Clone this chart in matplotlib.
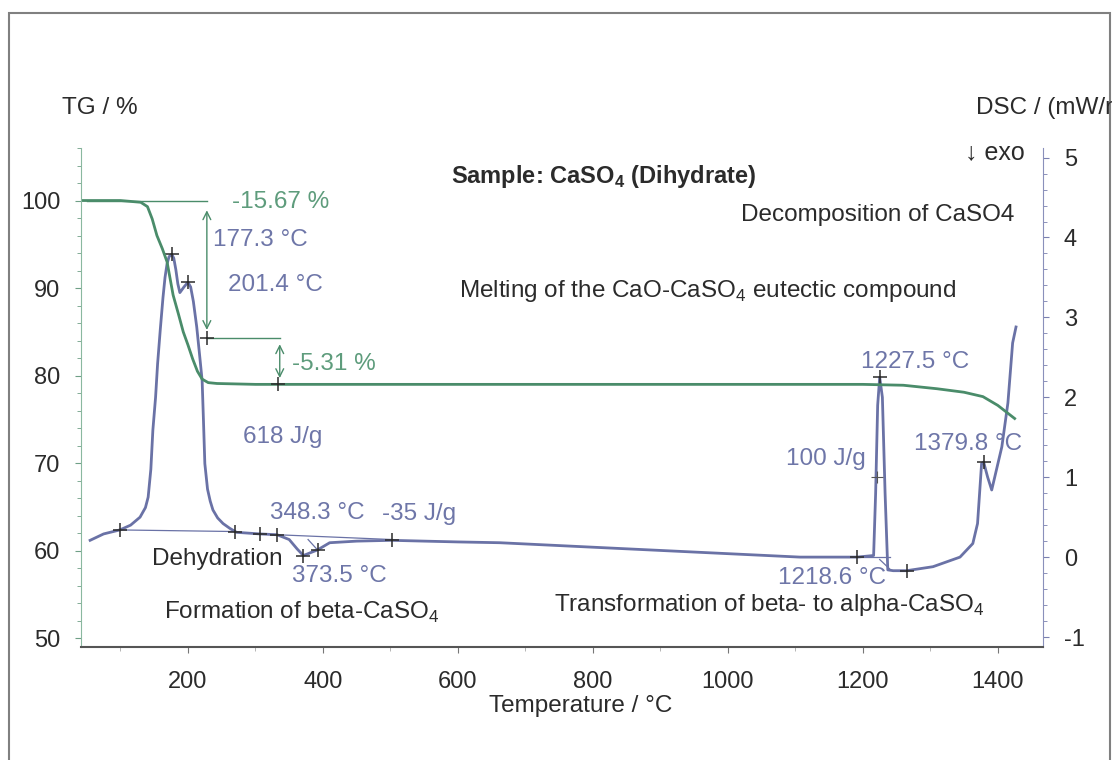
import matplotlib
matplotlib.use("Agg")
import matplotlib.pyplot as plt
from matplotlib.patches import Rectangle
from matplotlib.ticker import MultipleLocator

plt.rcParams['font.family'] = ['Liberation Sans', 'DejaVu Sans']
plt.rcParams['mathtext.fontset'] = 'custom'
plt.rcParams['mathtext.rm'] = 'Liberation Sans'
plt.rcParams['mathtext.bf'] = 'Liberation Sans:bold'
plt.rcParams['axes.unicode_minus'] = False

# TG curve (mass %)
tg_temp = [45, 100, 130, 140, 147, 154, 162, 169, 178, 186, 193, 200, 207, 214, 221, 230, 243,
           300, 600, 900, 1200, 1260, 1310, 1350, 1378, 1400, 1425]
tg_mass = [100, 100, 99.8, 99.3, 97.9, 96.0, 94.5, 93.0, 89.2, 87.0, 85.0, 83.5, 81.9, 80.5,
           79.6, 79.2, 79.1, 79.0, 79.0, 79.0, 79.0, 78.9, 78.5, 78.1, 77.6, 76.6, 75.1]

# DSC curve (mW/mg)
dsc_temp = [55, 75, 99, 115, 129, 137, 141, 145, 148, 152, 155, 159, 163, 166, 169, 172, 176,
            179, 182, 185, 188, 194, 200, 204, 208, 213, 217, 221, 223, 225, 229, 233, 237, 244,
            252, 262, 272, 307, 332, 350, 362, 371, 380, 392, 410, 450, 502, 550, 600, 662,
            785, 958, 1107, 1191, 1216, 1219, 1222, 1225, 1229, 1233, 1237, 1245, 1265, 1304,
            1344, 1363, 1370, 1376, 1379, 1385, 1391, 1406, 1415, 1422, 1427]
dsc_val = [0.21, 0.29, 0.34, 0.4, 0.5, 0.62, 0.75, 1.1, 1.59, 2.0, 2.42, 2.85, 3.25, 3.5, 3.67,
           3.76, 3.79, 3.74, 3.6, 3.42, 3.31, 3.38, 3.44, 3.38, 3.2, 2.88, 2.55, 2.21, 1.7, 1.17,
           0.85, 0.7, 0.59, 0.49, 0.42, 0.36, 0.31, 0.29, 0.28, 0.22, 0.1, 0.02, 0.05, 0.09,
           0.18, 0.2, 0.21, 0.2, 0.19, 0.18, 0.13, 0.06, 0.0, 0.0, 0.02, 0.8, 1.9, 2.25, 2.0,
           0.8, -0.16, -0.17, -0.17, -0.12, 0.0, 0.17, 0.42, 1.17, 1.19, 1.0, 0.84, 1.38, 1.93,
           2.68, 2.88]

# evaluation markers
dsc_mark_t = [100, 176, 200, 270, 307, 332, 371, 392, 502, 1191, 1226, 1265, 1380]
dsc_mark_v = [0.34, 3.79, 3.44, 0.31, 0.29, 0.28, 0.02, 0.09, 0.21, 0.0, 2.25, -0.17, 1.19]
tg_mark_t = [228, 333]
tg_mark_v = [84.3, 79.0]

# DSC baselines (pairs of points)
dsc_base = [((100, 270), (0.34, 0.32)), ((332, 502), (0.28, 0.22)), ((378, 392), (0.22, 0.09)),
            ((1191, 1240), (0.0, 0.0)), ((1225, 1240), (-0.03, -0.15))]

GREEN = '#4a8c6a'
GREEN_TXT = '#5e9c7c'
BLUE = '#6a72a6'
BLUE_TXT = '#6e76a8'
DARK = '#2b2b2b'

fig = plt.figure(figsize=(11.12, 7.6), dpi=100)
ax = fig.add_axes([81 / 1112, 1 - 647 / 760, (1043 - 81) / 1112, (647 - 148) / 760])
ax2 = ax.twinx()
ax.set_zorder(ax2.get_zorder() + 1)
ax.patch.set_visible(False)

ax.set_xlim(41.5, 1467)
ax.set_ylim(49, 106)
ax2.set_ylim(-1.125, 5.12)

# curves
ax2.plot(dsc_temp, dsc_val, color=BLUE, lw=2.0)
for xs, ys in dsc_base:
    ax2.plot(xs, ys, color=BLUE, lw=0.9)
ax2.plot(dsc_mark_t, dsc_mark_v, '+', color=DARK, ms=10, mew=1.1)
ax2.plot([1221], [1.0], '+', color='#555555', ms=8, mew=0.8)

ax.plot(tg_temp, tg_mass, color=GREEN, lw=2.0)
ax.plot([50, 228], [100, 100], color=GREEN, lw=1)
ax.plot([228, 336], [84.3, 84.3], color=GREEN, lw=1)
ax.annotate('', xy=(228, 99.2), xytext=(228, 84.9),
            arrowprops=dict(arrowstyle='<->', color=GREEN, lw=1, mutation_scale=14))
ax.annotate('', xy=(336, 83.9), xytext=(336, 79.4),
            arrowprops=dict(arrowstyle='<->', color=GREEN, lw=1, mutation_scale=14))
ax.plot(tg_mark_t, tg_mark_v, '+', color=DARK, ms=10, mew=1.1)

# spines & ticks
for s in ['top', 'right']:
    ax.spines[s].set_visible(False)
for s in ['top', 'left', 'bottom']:
    ax2.spines[s].set_visible(False)
ax.spines['left'].set_color('#8ab8a0')
ax.spines['bottom'].set_color('#555555')
ax.spines['bottom'].set_linewidth(1.5)
ax2.spines['right'].set_color('#8a90bb')

ax.xaxis.set_minor_locator(MultipleLocator(100))
ax.set_xticks([200, 400, 600, 800, 1000, 1200, 1400])
ax.yaxis.set_minor_locator(MultipleLocator(2))
ax.set_yticks([50, 60, 70, 80, 90, 100])
ax2.yaxis.set_minor_locator(MultipleLocator(0.2))
ax2.set_yticks([-1, 0, 1, 2, 3, 4, 5])

tfs = 17
ax.tick_params(axis='x', which='major', length=4, color='#777777', labelsize=tfs,
               labelcolor=DARK, pad=13)
ax.tick_params(axis='x', which='minor', length=3, color='#aaaaaa')
ax.tick_params(axis='y', which='both', color='#6f9f86', labelsize=tfs, labelcolor=DARK, pad=11)
ax.tick_params(axis='y', which='major', length=4)
ax.tick_params(axis='y', which='minor', length=3)
ax2.tick_params(axis='y', which='both', color='#7a80b0', labelsize=tfs, labelcolor=DARK, pad=11)
ax2.tick_params(axis='y', which='major', length=4)
ax2.tick_params(axis='y', which='minor', length=3)

# annotations
fs = 17.5
ax.text(265, 99.8, '-15.67 %', color=GREEN_TXT, fontsize=fs, va='center')
ax.text(237, 95.5, '177.3 °C', color=BLUE_TXT, fontsize=fs, va='center')
ax.text(259, 90.35, '201.4 °C', color=BLUE_TXT, fontsize=fs, va='center')
ax.text(354, 81.3, '-5.31 %', color=GREEN_TXT, fontsize=fs, va='center')
ax.text(281, 73.0, '618 J/g', color=BLUE_TXT, fontsize=fs, va='center')
ax.text(816, 102.7, r'Sample: CaSO$_\mathbf{4}$ (Dihydrate)', color=DARK, fontsize=17,
        fontweight='bold', ha='center', va='center')
ax.text(1425, 98.35, 'Decomposition of CaSO4', color=DARK, fontsize=fs, ha='right', va='center')
ax.text(970, 89.7, r'Melting of the CaO-CaSO$_4$ eutectic compound', color=DARK, fontsize=fs,
        ha='center', va='center')
ax.text(1277, 81.55, '1227.5 °C', color=BLUE_TXT, fontsize=fs, ha='center', va='center')
ax.text(1204, 70.5, '100 J/g', color=BLUE_TXT, fontsize=fs, ha='right', va='center')
ax.text(1356, 72.2, '1379.8 °C', color=BLUE_TXT, fontsize=fs, ha='center', va='center')
ax.text(392, 64.3, '348.3 °C', color=BLUE_TXT, fontsize=fs, ha='center', va='center')
ax.text(542, 64.2, '-35 J/g', color=BLUE_TXT, fontsize=fs, ha='center', va='center')
ax.text(243, 59.05, 'Dehydration', color=DARK, fontsize=fs, ha='center', va='center')
ax.text(425, 57.1, '373.5 °C', color=BLUE_TXT, fontsize=fs, ha='center', va='center')
ax.text(368, 52.9, r'Formation of beta-CaSO$_4$', color=DARK, fontsize=fs, ha='center',
        va='center')
ax.text(1154, 56.9, '1218.6 °C', color=BLUE_TXT, fontsize=fs, ha='center', va='center')
ax.text(1062, 53.8, r'Transformation of beta- to alpha-CaSO$_4$', color=DARK, fontsize=fs,
        ha='center', va='center')
ax.text(1440, 105.5, '↓ exo', color=DARK, fontsize=18, ha='right', va='center')

fig.text(62 / 1112, 1 - 108 / 760, 'TG / %', color=DARK, fontsize=fs, va='center')
fig.text(976 / 1112, 1 - 108 / 760, 'DSC / (mW/mg)', color=DARK, fontsize=fs, va='center')
fig.text(581 / 1112, 1 - 706 / 760, 'Temperature / °C', color=DARK, fontsize=fs,
         ha='center', va='center')

# outer frame
fig.patches.append(Rectangle((9 / 1112, -0.05), 1101 / 1112, 1.05 - 13 / 760,
                             transform=fig.transFigure, fill=False, ec='#808080', lw=1.5))

fig.savefig('out.png', dpi=100)
